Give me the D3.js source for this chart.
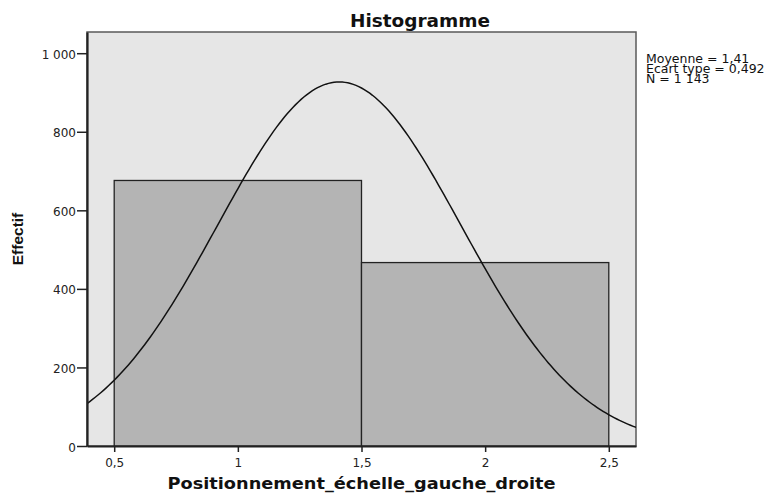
<!DOCTYPE html>
<html>
<head>
<meta charset="utf-8">
<script src="https://cdn.jsdelivr.net/npm/d3@7"></script>
<style>
  body { margin: 0; background: #fff; }
  svg { font-family: "DejaVu Sans", "Liberation Sans", Arial, sans-serif; }
</style>
</head>
<body>
<div id="chart"></div>
<script>
// histogram bins (bin edges) and counts
const binStarts = [0.5, 1.5];
const binWidth = 1;
const counts = [676, 467];
const xTicks = [0.5, 1, 1.5, 2, 2.5];
const yTicks = [0, 200, 400, 600, 800, 1000];
const statsLines = ["Moyenne = 1,41", "Ecart type = 0,492", "N = 1 143"];
const mean = 1.41, sd = 0.492, total = 1143;

const width = 769, height = 493;
const margin = {top: 32, right: 133, bottom: 47, left: 87};

const svg = d3.select("#chart").append("svg")
  .attr("width", width)
  .attr("height", height);

const x = d3.scaleLinear().domain([0.39, 2.61]).range([margin.left, width - margin.right]);
const y = d3.scaleLinear().domain([0, 1054]).range([height - margin.bottom, margin.top]);

const fmt = d => String(d).replace(".", ",").replace(/\B(?=(\d{3})+(?!\d))/g, " ");

// plot background
svg.append("rect")
  .attr("x", margin.left)
  .attr("y", margin.top)
  .attr("width", width - margin.right - margin.left)
  .attr("height", height - margin.bottom - margin.top)
  .attr("fill", "#e6e6e6")
  .attr("stroke", "#5a5a5a")
  .attr("stroke-width", 1.5);

// bars
svg.selectAll(".bar")
  .data(counts)
  .enter().append("rect")
  .attr("class", "bar")
  .attr("x", (d, i) => x(binStarts[i]))
  .attr("y", d => y(d))
  .attr("width", (d, i) => x(binStarts[i] + binWidth) - x(binStarts[i]))
  .attr("height", d => y(0) - y(d))
  .attr("fill", "#b4b4b4")
  .attr("stroke", "#222")
  .attr("stroke-width", 1.3);

// normal curve
const clipId = "plotclip";
svg.append("clipPath").attr("id", clipId).append("rect")
  .attr("x", margin.left)
  .attr("y", margin.top)
  .attr("width", width - margin.right - margin.left)
  .attr("height", height - margin.bottom - margin.top);

const normal = v => total * binWidth / (sd * Math.sqrt(2 * Math.PI)) * Math.exp(-0.5 * Math.pow((v - mean) / sd, 2));
const curvePts = d3.range(0, 201).map(i => {
  const v = 0.39 + (2.61 - 0.39) * i / 200;
  return [v, normal(v)];
});
svg.append("path")
  .datum(curvePts)
  .attr("clip-path", "url(#" + clipId + ")")
  .attr("fill", "none")
  .attr("stroke", "#111")
  .attr("stroke-width", 1.5)
  .attr("d", d3.line().x(d => x(d[0])).y(d => y(d[1])));

// y axis
const yAxis = svg.append("g")
  .attr("transform", "translate(" + margin.left + ",0)")
  .call(d3.axisLeft(y).tickValues(yTicks).tickFormat(fmt).tickSize(10).tickSizeOuter(0));
yAxis.select(".domain").attr("stroke", "#222").attr("stroke-width", 2.2);
yAxis.selectAll(".tick line").attr("stroke", "#222").attr("stroke-width", 1.5);
yAxis.selectAll(".tick text")
  .attr("font-family", "DejaVu Sans")
  .attr("font-size", 12).attr("fill", "#222").attr("x", -11).attr("dy", "0.42em");

// x axis
const xAxis = svg.append("g")
  .attr("transform", "translate(0," + y(0) + ")")
  .call(d3.axisBottom(x).tickValues(xTicks).tickFormat(fmt).tickSize(6).tickSizeOuter(0));
xAxis.select(".domain").attr("stroke", "#222").attr("stroke-width", 2.2);
xAxis.selectAll(".tick line").attr("stroke", "#222").attr("stroke-width", 1.5);
xAxis.selectAll(".tick text")
  .attr("font-family", "DejaVu Sans")
  .attr("font-size", 12).attr("fill", "#222").attr("y", 12);

// title
svg.append("text")
  .attr("x", 420)
  .attr("y", 27)
  .attr("text-anchor", "middle")
  .attr("font-size", 18)
  .attr("font-weight", "bold")
  .attr("textLength", 140)
  .attr("lengthAdjust", "spacingAndGlyphs")
  .attr("fill", "#111")
  .text("Histogramme");

// axis titles
svg.append("text")
  .attr("x", (margin.left + width - margin.right) / 2)
  .attr("y", 489)
  .attr("text-anchor", "middle")
  .attr("font-size", 15)
  .attr("font-weight", "bold")
  .attr("textLength", 388)
  .attr("lengthAdjust", "spacingAndGlyphs")
  .attr("fill", "#111")
  .text("Positionnement_échelle_gauche_droite");

svg.append("text")
  .attr("transform", "translate(23," + ((margin.top + height - margin.bottom) / 2) + ") rotate(-90)")
  .attr("text-anchor", "middle")
  .attr("font-family", "Liberation Sans")
  .attr("font-size", 15.5)
  .attr("font-weight", "bold")
  .attr("fill", "#111")
  .text("Effectif");

// stats box
svg.append("g").selectAll("text")
  .data(statsLines)
  .enter().append("text")
  .attr("x", 646)
  .attr("y", (d, i) => 63 + i * 10)
  .attr("font-size", 12.5)
  .attr("fill", "#111")
  .text(d => d);
</script>
</body>
</html>
